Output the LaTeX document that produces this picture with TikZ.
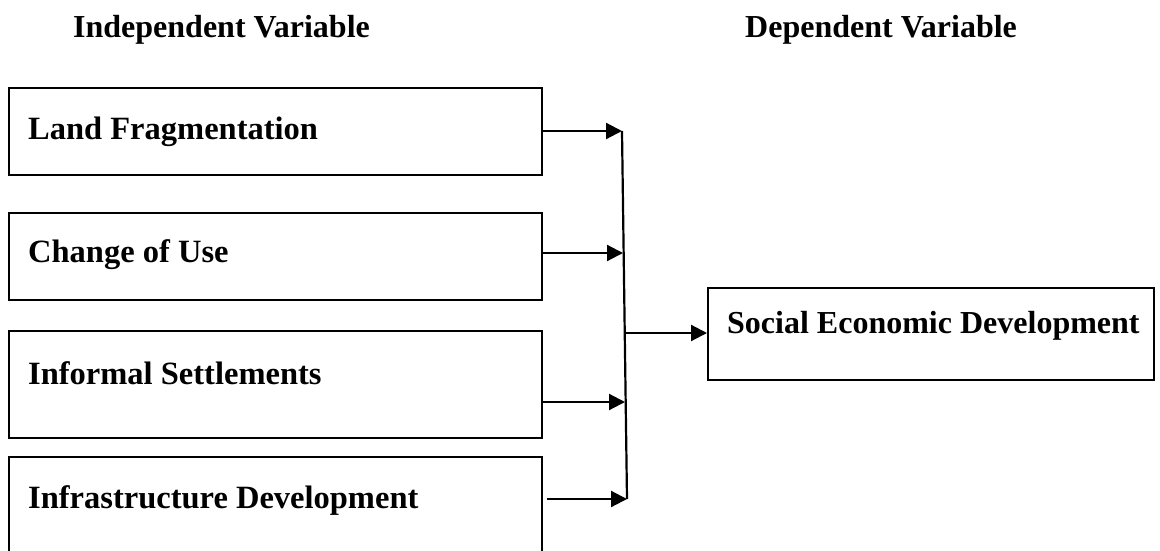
\documentclass[tikz,border=0pt]{standalone}
\usepackage{fontspec}
\setmainfont{Liberation Serif}
\usetikzlibrary{arrows.meta}
\begin{document}
\begin{tikzpicture}[x=1pt,y=-1pt,
  varbox/.style={draw=black,line width=2.2pt,rectangle,inner sep=0pt,anchor=north west},
  lbl/.style={anchor=base west,inner sep=0pt,font=\fontsize{32.5}{38}\selectfont\bfseries},
  head/.style={anchor=base west,inner sep=0pt,font=\fontsize{32}{38}\selectfont\bfseries},
  link/.style={line width=2.2pt,-{Triangle[length=16pt,width=16pt]}},
  bar/.style={line width=2.2pt}]
\useasboundingbox (0,0) rectangle (1160,550);

% column headings
\node[head] (hi) at (73,37) {Independent Variable};
\node[head] (hd) at (745,37) {Dependent Variable};

% independent variables
\node[varbox,minimum width=533pt,minimum height=87pt] (b1) at (8,87) {};
\node[varbox,minimum width=533pt,minimum height=87pt] (b2) at (8,212) {};
\node[varbox,minimum width=533pt,minimum height=107pt] (b3) at (8,330) {};
\node[varbox,minimum width=533pt,minimum height=120pt] (b4) at (8,456) {};
\node[lbl] (t1) at (28,139) {Land Fragmentation};
\node[lbl] (t2) at (28,262) {Change of Use};
\node[lbl] (t3) at (28,384) {Informal Settlements};
\node[lbl] (t4) at (28,508) {Infrastructure Development};

% dependent variable
\node[varbox,minimum width=446pt,minimum height=92pt] (r) at (707,287) {};
\node[head] (tr) at (727,333) {Social Economic Development};

% collecting bar
\coordinate (j1) at (622,131);
\coordinate (j2) at (623,253);
\coordinate (j3) at (625,402);
\coordinate (j4) at (627,499);
\coordinate (jm) at (624,333);
\coordinate (s3) at (541,402);
\coordinate (s4) at (547,499);
\draw[bar] (j1) -- (j4);

% connectors
\draw[link] (b1.east |- j1) -- (j1);
\draw[link] (b2.east |- j2) -- (j2);
\draw[link] (s3) -- (j3);
\draw[link] (s4) -- (j4);
\draw[link] (jm) -- (r.west |- jm);
\end{tikzpicture}
\end{document}
